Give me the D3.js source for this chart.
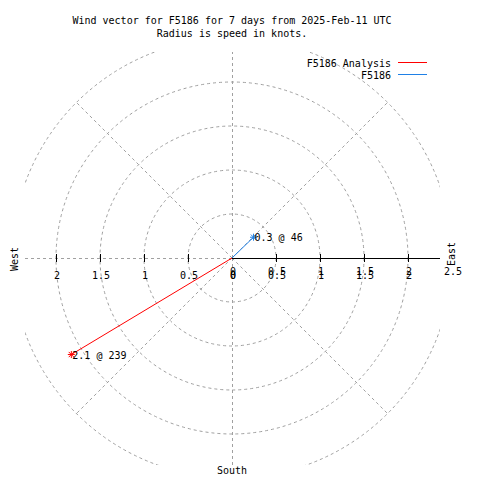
<!DOCTYPE html>
<html>
<head>
<meta charset="utf-8">
<script src="https://cdn.jsdelivr.net/npm/d3@7"></script>
<style>
  html, body { margin: 0; padding: 0; background: #fff; }
  svg { display: block; }
  text { font-family: "DejaVu Sans Mono", "Liberation Mono", monospace; font-size: 10px; fill: #000; }
</style>
</head>
<body>
<svg id="chart" width="480" height="480"></svg>
<script>
// ---- data ----
const titleLines = ["Wind vector for F5186 for 7 days from 2025-Feb-11 UTC", "Radius is speed in knots."];
const seriesNames = ["F5186 Analysis", "F5186"];
const speeds = [2.13, 0.34];        // knots
const directions = [239, 46];       // degrees (compass)
const ringValues = [0.5, 1, 1.5, 2, 2.5];
const spokeAngles = [0, 45, 135, 180, 225, 270, 315];
const tickValues = [0.5, 1, 1.5, 2];
const leftLabels = [2, 1.5, 1, 0.5, 0];
const rightLabelsA = [0, 0.5, 1, 1.5, 2, 2.5];
const rightLabelsB = [0, 0.5, 1, 1.5, 2];
const compassLabels = ["West", "East", "South"];

// ---- layout ----
const colors = ["#ff0000", "#1f80e6"];
const cx = 232, cy = 258;
const svg = d3.select("#chart");
const r = d3.scaleLinear().domain([0, 2.5]).range([0, 220]);
const clip = { x: 25, y: 52, w: 415, h: 413 };

svg.append("defs").append("clipPath").attr("id", "plotclip")
  .append("rect").attr("x", clip.x).attr("y", clip.y).attr("width", clip.w).attr("height", clip.h);

const g = svg.append("g").attr("clip-path", "url(#plotclip)");
const pt = (deg, v) => {
  const a = deg * Math.PI / 180;
  return [cx + r(v) * Math.sin(a), cy - r(v) * Math.cos(a)];
};

// rings
g.selectAll("circle.ring").data(ringValues).enter().append("circle")
  .attr("cx", cx).attr("cy", cy).attr("r", d => r(d))
  .attr("fill", "none").attr("stroke", "#a0a0a0").attr("stroke-width", 1)
  .attr("stroke-dasharray", "3,3");

// spokes
g.selectAll("line.spoke").data(spokeAngles).enter().append("line")
  .attr("x1", cx).attr("y1", cy)
  .attr("x2", d => pt(d, 2.5)[0]).attr("y2", d => pt(d, 2.5)[1])
  .attr("stroke", "#a0a0a0").attr("stroke-width", 1)
  .attr("stroke-dasharray", "3,3")
  .attr("shape-rendering", d => d % 90 === 0 ? "crispEdges" : null);

// east axis (solid)
svg.append("line").attr("x1", cx).attr("y1", cy + 0.5).attr("x2", 440).attr("y2", cy + 0.5)
  .attr("stroke", "#000").attr("stroke-width", 1);

// ticks right and left
svg.selectAll("line.tr").data(tickValues).enter().append("line")
  .attr("x1", d => Math.round(cx + r(d)) + 0.5).attr("x2", d => Math.round(cx + r(d)) + 0.5)
  .attr("y1", cy - 4).attr("y2", cy + 4).attr("stroke", "#000");
svg.selectAll("line.tl").data(tickValues).enter().append("line")
  .attr("x1", d => Math.round(cx - r(d)) + 0.5).attr("x2", d => Math.round(cx - r(d)) + 0.5)
  .attr("y1", cy - 4).attr("y2", cy + 4).attr("stroke", "#000");

// tick labels
const fmt = d => String(d);
svg.selectAll("text.ll").data(leftLabels).enter().append("text")
  .attr("x", d => cx - r(d) + 1).attr("y", 279).attr("text-anchor", "middle").text(fmt);
svg.selectAll("text.ra").data(rightLabelsA).enter().append("text")
  .attr("x", d => cx + r(d) + 1).attr("y", 275).attr("text-anchor", "middle").text(fmt);
svg.selectAll("text.rb").data(rightLabelsB).enter().append("text")
  .attr("x", d => cx + r(d) + 1).attr("y", 279).attr("text-anchor", "middle").text(fmt);

// compass labels
svg.append("text").attr("transform", "translate(18,259) rotate(-90)").attr("text-anchor", "middle").text(compassLabels[0]);
svg.append("text").attr("transform", "translate(455,254) rotate(-90)").attr("text-anchor", "middle").text(compassLabels[1]);
svg.append("text").attr("x", cx).attr("y", 474).attr("text-anchor", "middle").text(compassLabels[2]);

// vectors
const fmt1 = d3.format(".1f");
seriesNames.forEach((name, i) => {
  const [x, y] = pt(directions[i], speeds[i]);
  svg.append("line").attr("x1", cx).attr("y1", cy).attr("x2", x).attr("y2", y)
    .attr("stroke", colors[i]).attr("stroke-width", 1);
  const s = 3.5;
  const star = svg.append("g").attr("stroke", colors[i]).attr("stroke-width", 1);
  star.append("line").attr("x1", x - s).attr("x2", x + s).attr("y1", y).attr("y2", y);
  star.append("line").attr("x1", x).attr("x2", x).attr("y1", y - s).attr("y2", y + s);
  star.append("line").attr("x1", x - s * 0.75).attr("x2", x + s * 0.75).attr("y1", y - s * 0.75).attr("y2", y + s * 0.75);
  star.append("line").attr("x1", x - s * 0.75).attr("x2", x + s * 0.75).attr("y1", y + s * 0.75).attr("y2", y - s * 0.75);
  svg.append("text").attr("x", x + 1).attr("y", y + 4)
    .text(fmt1(speeds[i]) + " @ " + directions[i]);
});

// legend
seriesNames.forEach((name, i) => {
  const y = 67 + i * 12;
  svg.append("text").attr("x", 391).attr("y", y).attr("text-anchor", "end").text(name);
  svg.append("line").attr("x1", 398).attr("x2", 427).attr("y1", y - 4.5).attr("y2", y - 4.5)
    .attr("stroke", colors[i]).attr("stroke-width", 1);
});

// title
titleLines.forEach((t, i) => {
  svg.append("text").attr("x", 232).attr("y", 24 + i * 13).attr("text-anchor", "middle").text(t);
});
</script>
</body>
</html>
